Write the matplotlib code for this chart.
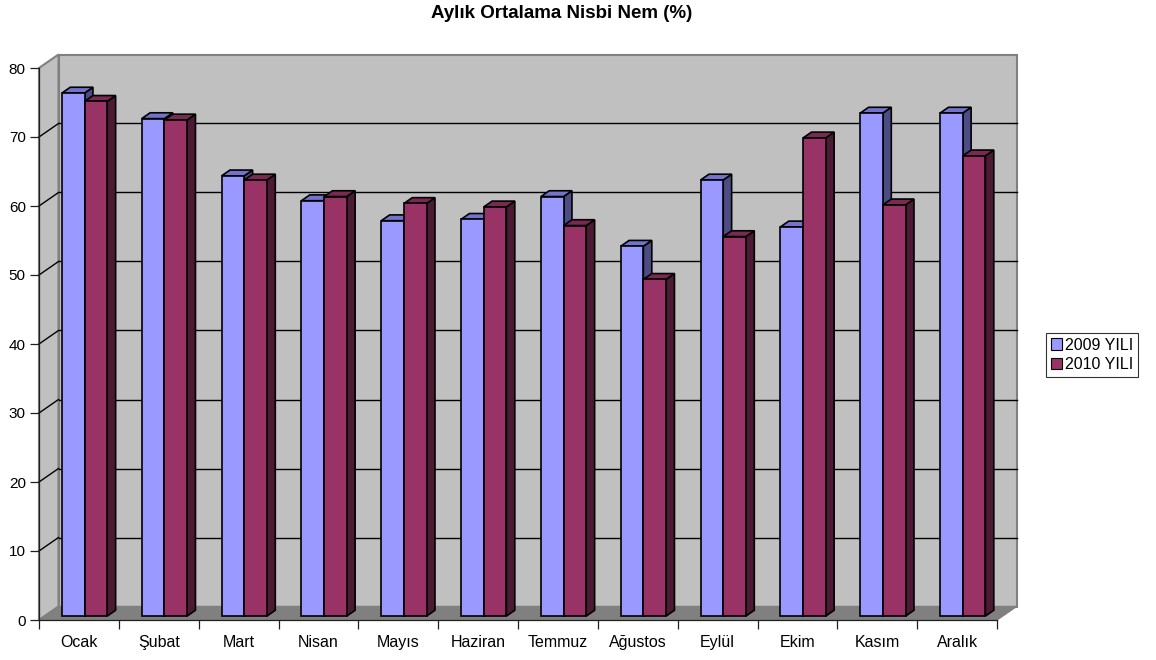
import matplotlib
matplotlib.use("Agg")
import matplotlib.pyplot as plt
from matplotlib.patches import Polygon, Patch

plt.rcParams["font.family"] = ["Liberation Sans", "DejaVu Sans"]

# Monthly mean relative humidity (%)
months = ["Ocak", "Şubat", "Mart", "Nisan", "Mayıs", "Haziran",
          "Temmuz", "Ağustos", "Eylül", "Ekim", "Kasım", "Aralık"]
humidity_2009 = [75.8, 72.1, 63.8, 60.2, 57.3, 57.5, 60.8, 53.6, 63.2, 56.4, 72.9, 72.9]
humidity_2010 = [74.6, 71.9, 63.2, 60.8, 59.8, 59.3, 56.6, 48.8, 55.0, 69.3, 59.6, 66.7]
series_names = ["2009 YILI", "2010 YILI"]
y_ticks = [0, 10, 20, 30, 40, 50, 60, 70, 80]

# face colours: front, top, side
colors_2009 = ("#9999FF", "#7373CC", "#4D4D85")
colors_2010 = ("#993366", "#7A2952", "#4D1A33")

W, H = 1156, 660
fig = plt.figure(figsize=(W / 100, H / 100), dpi=100)
ax_l, ax_b, ax_w, ax_h = 39, 40, 958, 552
ax = fig.add_axes([ax_l / W, ax_b / H, ax_w / W, ax_h / H])
n = len(months)
ymax = 80
ax.set_xlim(0, n)
ax.set_ylim(0, ymax)

# oblique projection of the depth axis, expressed in data units
DEPTH_PX_X, DEPTH_PX_Y = 19.5, 13.5
dxd = DEPTH_PX_X / (ax_w / n)
dyd = DEPTH_PX_Y / (ax_h / ymax)


def proj(x, y, f):
    return (x + f * dxd, y + f * dyd)


wall = "#C0C0C0"
floor = "#808080"
edge = "#808080"

# back wall
ax.add_patch(Polygon([proj(0, 0, 1), proj(n, 0, 1), proj(n, ymax, 1), proj(0, ymax, 1)],
                     closed=True, facecolor=wall, edgecolor=edge, lw=1.5,
                     clip_on=False, zorder=0))
# left wall
ax.add_patch(Polygon([proj(0, 0, 0), proj(0, 0, 1), proj(0, ymax, 1), proj(0, ymax, 0)],
                     closed=True, facecolor=wall, edgecolor=edge, lw=1.5,
                     clip_on=False, zorder=0))
# floor
ax.add_patch(Polygon([proj(0, 0, 0), proj(n, 0, 0), proj(n, 0, 1), proj(0, 0, 1)],
                     closed=True, facecolor=floor, edgecolor=edge, lw=1,
                     clip_on=False, zorder=0.5))

# gridlines on the back and left walls
for yv in y_ticks[1:-1]:
    xa, ya = proj(0, yv, 1)
    xb, yb = proj(n, yv, 1)
    ax.plot([xa, xb], [ya, yb], color="black", lw=1, zorder=0.6, clip_on=False)
    x0, y0 = proj(0, yv, 0)
    ax.plot([x0, xa], [y0, ya], color="black", lw=1, zorder=0.6, clip_on=False)

# 3-D bars
bar_w = 0.284
f0, f1 = 0.29, 0.72
z = 1
for i in range(n):
    centre = i + 0.5
    for left, val, cols in ((centre - bar_w, humidity_2009[i], colors_2009),
                            (centre, humidity_2010[i], colors_2010)):
        right = left + bar_w
        side = [proj(right, 0, f0), proj(right, 0, f1), proj(right, val, f1), proj(right, val, f0)]
        top = [proj(left, val, f0), proj(right, val, f0), proj(right, val, f1), proj(left, val, f1)]
        front = [proj(left, 0, f0), proj(right, 0, f0), proj(right, val, f0), proj(left, val, f0)]
        for pts, c in ((side, cols[2]), (top, cols[1]), (front, cols[0])):
            ax.add_patch(Polygon(pts, closed=True, facecolor=c, edgecolor="black",
                                 lw=1.2, joinstyle="miter", clip_on=False, zorder=z))
            z += 0.01

# axes: front left edge and floor front edge
for s in ("top", "right"):
    ax.spines[s].set_visible(False)
ax.spines["left"].set_color("#202020")
ax.spines["bottom"].set_color("#202020")
ax.spines["left"].set_linewidth(0.9)
ax.spines["bottom"].set_linewidth(0.9)
ax.patch.set_visible(False)

ax.set_yticks(y_ticks)
ax.set_yticklabels([str(v) for v in y_ticks], fontsize=11)
ax.tick_params(axis="y", direction="out", length=6.5, width=0.9, pad=3, color="#202020")

ax.set_xticks(range(n + 1))
ax.set_xticklabels([])
ax.set_xticks([i + 0.5 for i in range(n)], minor=True)
ax.set_xticklabels(months, minor=True, fontsize=11.5)
ax.tick_params(axis="x", which="major", direction="out", length=6.5, width=0.9, color="#202020")
ax.tick_params(axis="x", which="minor", length=0, pad=10.5)

fig.text(0.486, 1 - 14 / H, "Aylık Ortalama Nisbi Nem (%)", ha="center", va="center",
         fontsize=13.5, fontweight="bold")

handles = [Patch(facecolor=colors_2009[0], edgecolor="black", lw=0.8),
           Patch(facecolor=colors_2010[0], edgecolor="black", lw=0.8)]
leg = fig.legend(handles, series_names, loc="center left",
                 bbox_to_anchor=(1046 / W, 1 - 355 / H), fontsize=11.5,
                 frameon=True, fancybox=False, handlelength=0.7, handleheight=0.7,
                 handletextpad=0.2, borderpad=0.3, labelspacing=0.3, borderaxespad=0)
leg.get_frame().set_edgecolor("black")
leg.get_frame().set_linewidth(0.8)

fig.savefig("out.png", dpi=100)
